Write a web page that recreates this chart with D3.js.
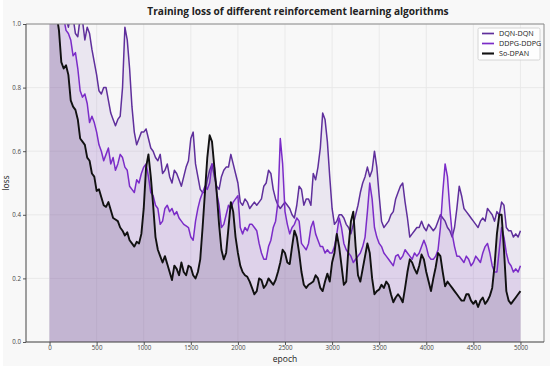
<!DOCTYPE html>
<html><head><meta charset="utf-8">
<script src="https://cdn.jsdelivr.net/npm/d3@7"></script>
<style>html,body{margin:0;padding:0;background:#fff;} svg{display:block;font-family:"Open Sans","Noto Sans",sans-serif;}</style>
</head><body><svg id="c" width="550" height="369"></svg>
<script>
const epochs = [
  0,25,50,75,100,125,150,175,200,225,250,275,300,325,350,375,400,425,450,475,
  500,525,550,575,600,625,650,675,700,725,750,775,800,825,850,875,900,925,950,975,
  1000,1025,1050,1075,1100,1125,1150,1175,1200,1225,1250,1275,1300,1325,1350,1375,1400,1425,1450,1475,
  1500,1525,1550,1575,1600,1625,1650,1675,1700,1725,1750,1775,1800,1825,1850,1875,1900,1925,1950,1975,
  2000,2025,2050,2075,2100,2125,2150,2175,2200,2225,2250,2275,2300,2325,2350,2375,2400,2425,2450,2475,
  2500,2525,2550,2575,2600,2625,2650,2675,2700,2725,2750,2775,2800,2825,2850,2875,2900,2925,2950,2975,
  3000,3025,3050,3075,3100,3125,3150,3175,3200,3225,3250,3275,3300,3325,3350,3375,3400,3425,3450,3475,
  3500,3525,3550,3575,3600,3625,3650,3675,3700,3725,3750,3775,3800,3825,3850,3875,3900,3925,3950,3975,
  4000,4025,4050,4075,4100,4125,4150,4175,4200,4225,4250,4275,4300,4325,4350,4375,4400,4425,4450,4475,
  4500,4525,4550,4575,4600,4625,4650,4675,4700,4725,4750,4775,4800,4825,4850,4875,4900,4925,4950,4975,
  5000];
const dqnDqn = [
  1.40,1.35,1.30,1.25,1.20,1.12,1.08,1.02,0.99,1.03,1.02,0.97,0.96,1.02,1.01,0.95,0.99,0.97,0.92,0.88,
  0.84,0.79,0.78,0.80,0.80,0.76,0.72,0.70,0.68,0.70,0.71,0.80,0.99,0.95,0.86,0.74,0.66,0.62,0.64,0.66,
  0.66,0.67,0.64,0.61,0.60,0.58,0.57,0.59,0.53,0.54,0.56,0.52,0.50,0.54,0.53,0.51,0.49,0.52,0.55,0.57,
  0.64,0.66,0.56,0.52,0.48,0.47,0.47,0.51,0.54,0.56,0.52,0.49,0.48,0.52,0.54,0.55,0.55,0.59,0.56,0.53,
  0.50,0.44,0.43,0.45,0.44,0.42,0.43,0.44,0.43,0.44,0.45,0.49,0.50,0.54,0.53,0.48,0.45,0.43,0.42,0.43,
  0.44,0.43,0.42,0.40,0.39,0.43,0.49,0.48,0.43,0.45,0.45,0.43,0.53,0.51,0.55,0.61,0.72,0.70,0.63,0.52,
  0.42,0.37,0.38,0.40,0.40,0.39,0.37,0.36,0.34,0.37,0.40,0.43,0.47,0.50,0.52,0.55,0.52,0.54,0.60,0.55,
  0.46,0.38,0.36,0.37,0.38,0.40,0.41,0.45,0.47,0.49,0.50,0.44,0.39,0.33,0.34,0.35,0.36,0.36,0.38,0.36,
  0.35,0.37,0.36,0.35,0.36,0.38,0.40,0.39,0.38,0.36,0.35,0.33,0.36,0.42,0.49,0.46,0.42,0.41,0.40,0.39,
  0.38,0.37,0.36,0.38,0.39,0.38,0.42,0.41,0.40,0.38,0.41,0.40,0.44,0.43,0.36,0.35,0.35,0.33,0.34,0.33,
  0.35];
const ddpgDdpg = [
  1.30,1.26,1.20,1.14,1.10,1.05,1.02,0.98,0.97,0.95,0.90,0.91,0.86,0.79,0.77,0.78,0.75,0.69,0.71,0.69,
  0.66,0.62,0.60,0.57,0.59,0.61,0.56,0.58,0.54,0.56,0.59,0.58,0.55,0.54,0.49,0.48,0.47,0.51,0.50,0.53,
  0.55,0.56,0.52,0.47,0.46,0.43,0.42,0.37,0.38,0.42,0.43,0.41,0.42,0.40,0.41,0.39,0.38,0.37,0.365,0.36,
  0.33,0.32,0.38,0.42,0.45,0.47,0.49,0.48,0.50,0.56,0.55,0.47,0.43,0.36,0.37,0.40,0.43,0.42,0.44,0.45,
  0.46,0.36,0.34,0.36,0.35,0.37,0.37,0.36,0.35,0.31,0.28,0.26,0.26,0.30,0.32,0.36,0.38,0.44,0.64,0.56,
  0.41,0.37,0.34,0.36,0.37,0.39,0.38,0.31,0.30,0.29,0.31,0.36,0.38,0.34,0.32,0.30,0.30,0.28,0.29,0.28,
  0.28,0.30,0.34,0.39,0.36,0.31,0.29,0.28,0.27,0.25,0.26,0.27,0.28,0.30,0.33,0.41,0.50,0.45,0.36,0.33,
  0.31,0.30,0.28,0.27,0.26,0.25,0.24,0.27,0.275,0.26,0.27,0.29,0.28,0.27,0.26,0.28,0.27,0.28,0.30,0.32,
  0.30,0.27,0.26,0.26,0.27,0.29,0.36,0.47,0.56,0.52,0.42,0.34,0.30,0.27,0.27,0.26,0.25,0.27,0.26,0.24,
  0.25,0.27,0.26,0.25,0.28,0.30,0.31,0.28,0.24,0.22,0.22,0.29,0.36,0.33,0.28,0.25,0.24,0.22,0.23,0.22,
  0.24];
const soDpan = [
  1.30,1.20,1.12,1.03,0.98,0.88,0.86,0.87,0.84,0.76,0.74,0.73,0.70,0.64,0.63,0.62,0.58,0.57,0.53,0.52,
  0.475,0.48,0.455,0.43,0.425,0.44,0.415,0.39,0.385,0.38,0.36,0.35,0.335,0.345,0.32,0.31,0.30,0.315,0.31,0.34,
  0.42,0.55,0.59,0.52,0.43,0.33,0.29,0.27,0.25,0.27,0.245,0.22,0.195,0.24,0.23,0.21,0.25,0.22,0.21,0.24,
  0.235,0.21,0.20,0.22,0.26,0.36,0.47,0.58,0.65,0.63,0.55,0.47,0.37,0.29,0.26,0.28,0.36,0.44,0.41,0.33,
  0.28,0.24,0.22,0.21,0.205,0.19,0.17,0.15,0.16,0.20,0.195,0.17,0.18,0.20,0.19,0.18,0.195,0.22,0.25,0.29,
  0.28,0.25,0.245,0.30,0.35,0.33,0.28,0.22,0.18,0.17,0.18,0.185,0.19,0.21,0.20,0.17,0.16,0.19,0.215,0.19,
  0.25,0.28,0.34,0.30,0.24,0.18,0.19,0.30,0.38,0.41,0.30,0.21,0.19,0.23,0.27,0.31,0.28,0.20,0.15,0.16,
  0.165,0.18,0.17,0.19,0.18,0.15,0.125,0.14,0.15,0.14,0.125,0.17,0.22,0.26,0.25,0.23,0.215,0.24,0.275,0.26,
  0.22,0.19,0.16,0.20,0.235,0.28,0.27,0.22,0.175,0.19,0.18,0.17,0.16,0.15,0.14,0.13,0.13,0.15,0.15,0.13,
  0.12,0.13,0.11,0.13,0.14,0.12,0.13,0.145,0.17,0.24,0.34,0.40,0.40,0.29,0.16,0.13,0.12,0.13,0.14,0.15,
  0.16];
const xTicks = [0,500,1000,1500,2000,2500,3000,3500,4000,4500,5000];
const yTicks = [0.0,0.2,0.4,0.6,0.8,1.0];
const seriesNames = ["DQN-DQN","DDPG-DDPG","So-DPAN"];

const series = [
  {name: seriesNames[0], values: dqnDqn, stroke: "#5f2f9c", fill: "#7a4fb0", fo: 0.10, w: 1.5},
  {name: seriesNames[1], values: ddpgDdpg, stroke: "#7b2cc8", fill: "#8a3fc8", fo: 0.12, w: 1.5},
  {name: seriesNames[2], values: soDpan, stroke: "#111111", fill: "#6e5582", fo: 0.23, w: 1.9}
];

const svg = d3.select("#c");
const L = 26, R = 544, T = 24, B = 342;
const x = d3.scaleLinear().domain([-250, 5250]).range([L, R]);
const y = d3.scaleLinear().domain([0, 1]).range([B, T]);

svg.append("rect").attr("x", 0).attr("y", 0).attr("width", 550).attr("height", 369).attr("fill", "#ffffff");
svg.append("rect").attr("x", 3).attr("y", 0).attr("width", 547).attr("height", 366).attr("fill", "#f8f8f8");

// grid
const grid = svg.append("g");
grid.selectAll("line.vx").data(xTicks).join("line")
  .attr("x1", d => x(d)).attr("x2", d => x(d)).attr("y1", T).attr("y2", B)
  .attr("stroke", "#e6e6e6").attr("stroke-width", 0.8);
grid.selectAll("line.hy").data(yTicks).join("line")
  .attr("y1", d => y(d)).attr("y2", d => y(d)).attr("x1", L).attr("x2", R)
  .attr("stroke", "#e6e6e6").attr("stroke-width", 0.8);

svg.append("defs").append("clipPath").attr("id", "clip")
  .append("rect").attr("x", L).attr("y", T).attr("width", R - L).attr("height", B - T);

const plot = svg.append("g").attr("clip-path", "url(#clip)");
const area = vals => d3.area().x((d, i) => x(epochs[i])).y0(y(0)).y1(d => y(d))(vals);
const line = vals => d3.line().x((d, i) => x(epochs[i])).y(d => y(d))(vals);

series.forEach(s => {
  plot.append("path").attr("d", area(s.values)).attr("fill", s.fill).attr("fill-opacity", s.fo);
});
series.forEach(s => {
  plot.append("path").attr("d", line(s.values)).attr("fill", "none")
    .attr("stroke", s.stroke).attr("stroke-width", s.w).attr("stroke-linejoin", "round");
});

// axes
const xAxis = svg.append("g").attr("transform", `translate(0,${B})`)
  .call(d3.axisBottom(x).tickValues(xTicks).tickSize(3).tickPadding(1).tickFormat(d3.format("d")));
const yAxis = svg.append("g").attr("transform", `translate(${L},0)`)
  .call(d3.axisLeft(y).tickValues(yTicks).tickSize(3).tickPadding(2).tickFormat(d3.format(".1f")));
[xAxis, yAxis].forEach(a => {
  a.select(".domain").remove();
  a.selectAll(".tick line").attr("stroke", "#555");
  a.selectAll(".tick text").attr("fill", "#444").style("font-size", "6.2px").style("font-family", "'Open Sans','Noto Sans',sans-serif");
});

// frame
svg.append("line").attr("x1", L).attr("x2", R).attr("y1", T).attr("y2", T).attr("stroke", "#8a8a8a").attr("stroke-width", 1);
svg.append("line").attr("x1", R).attr("x2", R).attr("y1", T).attr("y2", B).attr("stroke", "#8a8a8a").attr("stroke-width", 1);
svg.append("line").attr("x1", L).attr("x2", L).attr("y1", T).attr("y2", B).attr("stroke", "#444").attr("stroke-width", 1);
svg.append("line").attr("x1", L).attr("x2", R).attr("y1", B).attr("y2", B).attr("stroke", "#444").attr("stroke-width", 1);

// titles
svg.append("text").attr("x", 298).attr("y", 15).attr("text-anchor", "middle")
  .style("font-size", "10.1px").style("font-weight", "bold").attr("fill", "#222")
  .text("Training loss of different reinforcement learning algorithms");
svg.append("text").attr("x", (L + R) / 2).attr("y", 361.5).attr("text-anchor", "middle")
  .style("font-size", "8.5px").attr("fill", "#222").text("epoch");
svg.append("text").attr("transform", `translate(9,${(T + B) / 2}) rotate(-90)`).attr("text-anchor", "middle")
  .style("font-size", "8.5px").attr("fill", "#222").text("loss");

// legend
const lg = svg.append("g").attr("transform", "translate(478,28)");
lg.append("rect").attr("width", 62).attr("height", 32).attr("fill", "#ffffff").attr("fill-opacity", 0.85)
  .attr("stroke", "#cccccc").attr("stroke-width", 0.8).attr("rx", 1.5);
series.forEach((s, i) => {
  const yy = 5.5 + i * 10;
  lg.append("line").attr("x1", 4).attr("x2", 16).attr("y1", yy).attr("y2", yy)
    .attr("stroke", s.stroke).attr("stroke-width", s.w + 0.2);
  lg.append("text").attr("x", 21).attr("y", yy + 2.5).style("font-size", "7.2px").attr("fill", "#222").text(s.name);
});
</script></body></html>
